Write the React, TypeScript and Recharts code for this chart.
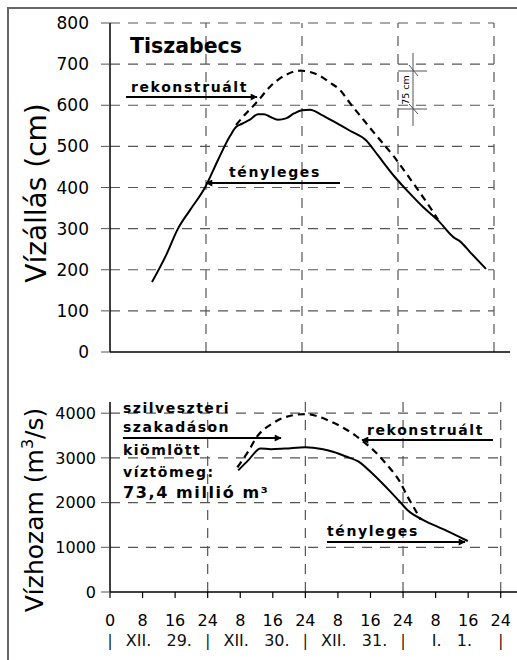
import React from 'react';
import { LineChart, Line, XAxis, YAxis, ReferenceLine } from 'recharts';

// Tiszabecs – vízállás (cm) és vízhozam (m3/s), 1998. XII. 29. – I. 1.
// órák: 0 = XII. 29. 0 óra

const stageActualHours = [10.5, 14, 17, 20, 23.75, 27, 30, 31.5, 33, 35, 37, 38.5, 40, 42, 44, 46, 48, 50, 53, 56, 60, 64, 67, 71, 75, 78, 82, 86, 87.5, 90, 94];
const stageActualCm = [170, 235, 300, 345, 400, 467, 525, 547, 555, 565, 578, 578, 572, 565, 568, 580, 588, 589, 576, 560, 538, 515, 478, 428, 385, 355, 320, 278, 269, 243, 202];

const stageRecHours = [31.5, 34, 36.75, 40, 44, 47.5, 50, 52, 55, 57.5, 60, 63, 65, 68, 71, 74, 77, 80, 82];
const stageRecCm = [552, 580, 608, 645, 674, 684, 681, 674, 655, 637, 605, 569, 545, 510, 475, 435, 394, 352, 322];

const flowActualHours = [31.5, 34, 37, 39.5, 43, 48, 52, 55, 58, 61, 64, 68, 71.5, 73, 77, 82, 87.9];
const flowActualM3 = [2720, 2950, 3210, 3195, 3210, 3240, 3200, 3130, 3030, 2920, 2690, 2330, 1990, 1840, 1610, 1400, 1140];

const flowRecHours = [31.3, 34, 36, 40, 45, 48, 51, 54, 57, 60, 62, 65, 68, 71.4, 73, 74.6, 76.3];
const flowRecM3 = [2790, 3150, 3460, 3776, 3955, 3980, 3930, 3820, 3690, 3520, 3380, 3150, 2850, 2440, 2150, 1900, 1620];

const stageTicks = [0, 100, 200, 300, 400, 500, 600, 700, 800];
const flowTicks = [0, 1000, 2000, 3000, 4000];
const dayBounds = [24, 48, 72, 96];
const hourTicks = [0, 8, 16, 24, 32, 40, 48, 56, 64, 72, 80, 88, 96];
const dayTicks = [0, 12, 24, 36, 48, 60, 72, 84, 96];
const dayLabels = ['XII.\u00a0\u00a0\u00a029.', 'XII.\u00a0\u00a0\u00a030.', 'XII.\u00a0\u00a0\u00a031.', 'I.\u00a0\u00a0\u00a01.'];

const zip = (hs: number[], vs: number[]) => hs.map((h, i) => ({ h, v: vs[i] }));

const FONT = 'DejaVu Sans';
const GRID = '#555';

const HourTick = (props: any) => {
  const { x, y, payload } = props;
  const v = payload.value;
  const label = v === 0 ? '0' : v % 24 === 0 ? '24' : String(v % 24);
  return (
    <text x={x} y={y + 28} textAnchor="middle" fontSize={16} fontFamily={FONT} fill="#000">
      {label}
    </text>
  );
};

const DayTick = (props: any) => {
  const { x, y, payload } = props;
  const v = payload.value;
  const label = v % 24 === 0 ? '|' : dayLabels[Math.floor(v / 24)];
  return (
    <text x={x} y={y + 24} textAnchor="middle" fontSize={v % 24 === 0 ? 15 : 16} fontFamily={FONT} fill="#111">
      {label}
    </text>
  );
};

const bold = { fontFamily: FONT, fontWeight: 700, fill: '#000' } as const;

export default function App() {
  return (
    <div style={{ position: 'fixed', left: 0, top: 0, width: 517, height: 660, background: '#fff', fontFamily: FONT }}>
      <div style={{ position: 'absolute', left: 7, top: 7, width: 520, height: 660, borderLeft: '2px solid #666', borderTop: '2px solid #666' }} />

      {/* vízállás */}
      <div style={{ position: 'absolute', left: 8, top: 8 }}>
        <LineChart width={509} height={358} margin={{ top: 15, right: 7, left: 0, bottom: 0 }}>
          <XAxis dataKey="h" type="number" domain={[0, 100]} allowDataOverflow tick={false} tickLine={false} height={14}
            axisLine={{ stroke: '#000', strokeWidth: 1.5 }} />
          <YAxis type="number" domain={[0, 800]} ticks={stageTicks} interval={0} width={102} tickSize={9} tickMargin={12}
            axisLine={{ stroke: '#000', strokeWidth: 1.5 }} tickLine={{ stroke: GRID }}
            tick={{ fontSize: 17, fontFamily: FONT, fill: '#000' }} />
          {stageTicks.filter(t => t > 0).map(t => (
            <ReferenceLine key={'h' + t} segment={[{ x: 0, y: t }, { x: 96, y: t }]} stroke={GRID} strokeWidth={1.2} strokeDasharray="10 8" />
          ))}
          {dayBounds.map(d => (
            <ReferenceLine key={'v' + d} segment={[{ x: d, y: 0 }, { x: d, y: 800 }]} stroke={GRID} strokeWidth={1.2} strokeDasharray="10 8" />
          ))}
          <Line data={zip(stageRecHours, stageRecCm)} dataKey="v" type="monotone" dot={false} stroke="#000" strokeWidth={2.2} strokeDasharray="7 5" isAnimationActive={false} />
          <Line data={zip(stageActualHours, stageActualCm)} dataKey="v" type="monotone" dot={false} stroke="#000" strokeWidth={2} isAnimationActive={false} />
        </LineChart>
      </div>

      {/* vízhozam */}
      <div style={{ position: 'absolute', left: 8, top: 398 }}>
        <LineChart width={509} height={262} margin={{ top: 4, right: 0, left: 0, bottom: 0 }}>
          <XAxis dataKey="h" type="number" domain={[0, 100]} allowDataOverflow ticks={hourTicks} interval={0} height={30}
            tickSize={6} tickMargin={0} tick={<HourTick />}
            axisLine={{ stroke: '#000', strokeWidth: 1.5 }} tickLine={{ stroke: '#000', strokeWidth: 1.2 }} />
          <XAxis xAxisId="days" dataKey="h" type="number" domain={[0, 100]} allowDataOverflow ticks={dayTicks} interval={0} height={38}
            tickSize={0} tickMargin={0} axisLine={false} tickLine={false} tick={<DayTick />} />
          <YAxis type="number" domain={[0, 4250]} ticks={flowTicks} interval={0} width={102} tickSize={9} tickMargin={5}
            axisLine={{ stroke: '#000', strokeWidth: 1.5 }} tickLine={{ stroke: GRID }}
            tick={{ fontSize: 16, fontFamily: FONT, fill: '#000' }} />
          {flowTicks.filter(t => t > 0).map(t => (
            <ReferenceLine key={'h' + t} segment={[{ x: 0, y: t }, { x: 96, y: t }]} stroke={GRID} strokeWidth={1.2} strokeDasharray="10 8" />
          ))}
          {dayBounds.map(d => (
            <ReferenceLine key={'v' + d} segment={[{ x: d, y: 0 }, { x: d, y: 4250 }]} stroke={GRID} strokeWidth={1.2} strokeDasharray="10 8" />
          ))}
          <Line data={zip(flowRecHours, flowRecM3)} dataKey="v" type="monotone" dot={false} stroke="#000" strokeWidth={2.2} strokeDasharray="7 5" isAnimationActive={false} />
          <Line data={zip(flowActualHours, flowActualM3)} dataKey="v" type="monotone" dot={false} stroke="#000" strokeWidth={2} isAnimationActive={false} />
        </LineChart>
      </div>

      {/* feliratok, nyilak */}
      <svg width={517} height={660} style={{ position: 'absolute', left: 0, top: 0, pointerEvents: 'none' }}>
        <defs>
          <marker id="arr" viewBox="0 0 10 10" refX="9" refY="5" markerWidth="9" markerHeight="7" markerUnits="userSpaceOnUse" orient="auto">
            <path d="M0,0 L10,5 L0,10 z" fill="#000" />
          </marker>
        </defs>

        <text x={46} y={193} transform="rotate(-90 46 193)" textAnchor="middle" fontSize={28} fontFamily={FONT} fill="#000">Vízállás (cm)</text>
        <text x={43} y={510} transform="rotate(-90 43 510)" textAnchor="middle" fontSize={25} fontFamily={FONT} fill="#000">
          Vízhozam (m<tspan dy={-10} fontSize={16}>3</tspan><tspan dy={10}>/s)</tspan>
        </text>

        <text x={130} y={53} fontSize={20.5} {...bold}>Tiszabecs</text>
        <text x={131} y={92} fontSize={14} letterSpacing={1.6} {...bold}>rekonstruált</text>
        <line x1={126} y1={97} x2={257} y2={97} stroke="#000" strokeWidth={1.8} markerEnd="url(#arr)" />
        <text x={229} y={177} fontSize={14} letterSpacing={1.6} {...bold}>tényleges</text>
        <line x1={340} y1={183} x2={206} y2={183} stroke="#000" strokeWidth={1.8} markerEnd="url(#arr)" />

        <g stroke="#555" strokeWidth={1}>
          <line x1={413} y1={53} x2={413} y2={126} />
          <line x1={398} y1={71} x2={427} y2={71} />
          <line x1={398} y1={109} x2={427} y2={109} />
          <line x1={409} y1={65} x2={418} y2={76} />
          <line x1={409} y1={104} x2={418} y2={114} />
        </g>
        <text x={409} y={90} transform="rotate(-90 409 90)" textAnchor="middle" fontSize={9.5} fontFamily={FONT} fill="#000">75 cm</text>

        <text x={123} y={413} fontSize={14} letterSpacing={1.5} {...bold}>szilveszteri</text>
        <text x={123} y={432} fontSize={14} letterSpacing={1.5} {...bold}>szakadáson</text>
        <line x1={123} y1={438} x2={281} y2={438} stroke="#000" strokeWidth={1.8} markerEnd="url(#arr)" />
        <text x={123} y={455} fontSize={14} letterSpacing={1.5} {...bold}>kiömlött</text>
        <text x={123} y={477} fontSize={14} letterSpacing={1.5} {...bold}>víztömeg:</text>
        <text x={123} y={498} fontSize={16} letterSpacing={1.6} {...bold}>73,4 millió m³</text>

        <text x={367} y={435} fontSize={14} letterSpacing={1.6} {...bold}>rekonstruált</text>
        <line x1={493} y1={440} x2={362} y2={440} stroke="#000" strokeWidth={1.8} markerEnd="url(#arr)" />
        <text x={327} y={536} fontSize={14} letterSpacing={1.6} {...bold}>tényleges</text>
        <line x1={327} y1={542} x2={465} y2={542} stroke="#000" strokeWidth={1.8} markerEnd="url(#arr)" />
      </svg>
    </div>
  );
}
